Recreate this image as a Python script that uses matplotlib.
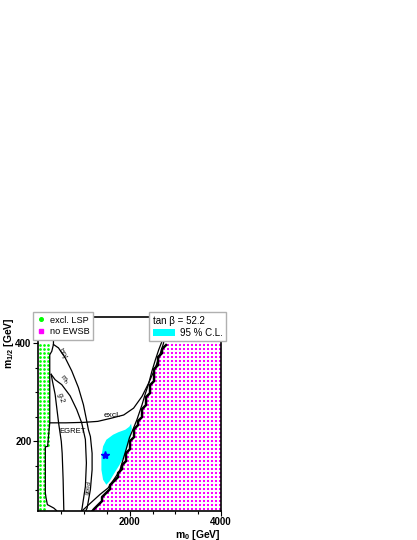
import numpy as np
import matplotlib
matplotlib.use("Agg")
from matplotlib import pyplot as plt
from matplotlib.lines import Line2D
from matplotlib.patches import Patch

plt.rcParams["font.family"] = ["Liberation Sans", "DejaVu Sans"]
plt.rcParams["mathtext.fontset"] = "custom"
plt.rcParams["mathtext.rm"] = "Liberation Sans"
plt.rcParams["mathtext.bf"] = "Liberation Sans:bold"
plt.rcParams["mathtext.it"] = "Liberation Sans:italic"

# no EWSB boundary (m0 right of this is excluded)
ewsb_m12 = [59, 64, 101, 125, 149, 169, 190, 218, 224, 248, 278, 299, 319, 345, 367, 387, 401]
ewsb_m0 = [1200, 1232, 1525, 1707, 1853, 1926, 1998, 2072, 2122, 2232, 2341, 2414, 2488, 2560, 2632, 2707, 2779]
ewsb_top = 401

# stau LSP region edge
lsp_edge_m12 = [59, 189, 190, 405]
lsp_edge_m0 = [140, 140, 230, 230]

# contour lines
lsp_line_m0 = [328, 328, 291, 247, 247, 200, 150, 150, 165, 195, 335, 395]
lsp_line_m12 = [460, 398, 384, 377, 238, 190, 189, 95, 85, 71, 64, 59]

bsg_m0 = [328, 438, 584, 729, 875, 985, 1057, 1094, 1138, 1175, 1175, 1138, 1066, 1040]
bsg_m12 = [398, 391, 371, 344, 310, 275, 242, 224, 210, 176, 142, 102, 64, 59]

mh_m0 = [278, 365, 510, 694, 838, 947, 1028, 1050, 1028, 956, 945]
mh_m12 = [337, 326, 316, 293, 265, 238, 204, 156, 108, 64, 59]

g2_m0 = [278, 306, 365, 400, 445, 500, 519, 540, 554, 556]
g2_m12 = [337, 323, 296, 269, 235, 200, 176, 122, 64, 59]

excl_m0 = [247, 600, 1000, 1300, 1575, 1867, 2085, 2269, 2414, 2560, 2670, 2742, 2760]
excl_m12 = [238, 238, 239, 241, 247, 254, 268, 292, 319, 350, 380, 401, 420]

good_m0 = [963, 1150, 1350, 1525, 1650, 1780, 1860, 1925, 1995, 2060, 2160, 2270, 2340, 2415, 2485, 2560, 2635, 2710]
good_m12 = [59, 75, 92, 105, 122, 140, 165, 185, 208, 222, 245, 275, 297, 318, 343, 366, 387, 405]

# 95 % C.L. region
cl_m0 = [1488, 1416, 1379, 1379, 1416, 1488, 1635, 1750, 1904, 1990, 2030, 2045, 2020, 1955, 1880, 1775, 1665, 1555]
cl_m12 = [111.6, 121.8, 142, 169, 190, 203.5, 213.7, 218.8, 224, 230, 236, 227, 210, 190, 169, 152, 135.5, 118.4]

best_m0 = 1450
best_m12 = 172

# scan grid of the plot (one point every 4 screen pixels)
m0_scan = np.arange(30, 4000, 87.67)
m12_scan = np.arange(62, 402, 8.165)

fig = plt.figure(figsize=(4.17, 5.40), dpi=100)
ax = fig.add_axes([0.0923, 0.0546, 0.4376, 0.3583])

G0, G12 = np.meshgrid(m0_scan, m12_scan)
pink = (G0 > np.interp(G12, ewsb_m12, ewsb_m0)) & (G12 <= ewsb_top)
green = G0 < np.interp(G12, lsp_edge_m12, lsp_edge_m0)
pl, = ax.plot(G0[pink], G12[pink], ls="none", marker="s", markersize=2.15, markeredgewidth=0,
              color="#ff00ff", antialiased=False, zorder=1)
pl.set_snap(False)
ax.scatter(G0[green], G12[green], marker="o", s=3.8, color="#00ff00", linewidths=0, zorder=1)

# jagged EWSB edge from the scan grid
dx = m0_scan[1] - m0_scan[0]
sx, sy = [], []
for j, y in enumerate(m12_scan):
    row = pink[j]
    if not row.any():
        continue
    sx.append(m0_scan[np.argmax(row)] - dx * 0.45)
    sy.append(y)
sx = [sx[0] - 60] + sx
sy = [55] + sy
ax.plot(sx, sy, color="black", lw=1.8, solid_joinstyle="round", zorder=3)

ax.fill(cl_m0, cl_m12, color="#00ffff", lw=0, zorder=2)

for xs, ys in [(lsp_line_m0, lsp_line_m12), (bsg_m0, bsg_m12), (mh_m0, mh_m12),
               (g2_m0, g2_m12), (excl_m0, excl_m12), (good_m0, good_m12)]:
    ax.plot(xs, ys, color="black", lw=0.9, zorder=3)

ax.plot([best_m0], [best_m12], marker="*", color="#0000ff", markersize=6, ls="none", zorder=4)

ax.text(525, 380, "bsγ", fontsize=5, rotation=-57, ha="center", va="center", zorder=4)
ax.text(547, 326, r"$\mathrm{m_h}$", fontsize=5, rotation=-50, ha="center", va="center", zorder=4)
ax.text(475, 289, "g-2", fontsize=5, rotation=-75, ha="center", va="center", zorder=4)
ax.text(755, 221, "EGRET", fontsize=5.5, ha="center", va="center", zorder=4)
ax.text(1620, 252, "excl.", fontsize=6, ha="center", va="center", zorder=4)
ax.text(1100, 106, "good", fontsize=4.5, rotation=80, ha="center", va="center", zorder=4)

ax.set_xlim(0, 4000)
ax.set_ylim(59, 454)
ax.set_xticks([2000, 4000])
ax.set_xticks(np.arange(500, 4000, 500), minor=True)
ax.set_yticks([200, 400])
ax.set_yticks(np.arange(100, 451, 50), minor=True)
ax.tick_params(which="both", direction="out", labelsize=7, pad=1.5, width=0.8)
ax.tick_params(which="major", length=3.5)
ax.tick_params(which="minor", length=2.5)
for lab in ax.get_xticklabels() + ax.get_yticklabels():
    lab.set_fontweight("bold")
for sp in ax.spines.values():
    sp.set_linewidth(1.2)

ax.set_xlabel(r"$\mathbf{m_0\ [GeV]}$", fontsize=7.5, loc="right")
ax.xaxis.set_label_coords(1.0, -0.088)
ax.set_ylabel(r"$\mathbf{m_{1/2}\ [GeV]}$", fontsize=7.5, loc="top")
ax.yaxis.set_label_coords(-0.125, 1.0)

h1 = [Line2D([], [], ls="none", marker="o", color="#00ff00", markersize=2.6),
      Line2D([], [], ls="none", marker="s", color="#ff00ff", markersize=2.6)]
fig.legend(h1, ["excl. LSP", "no EWSB"], loc="upper left",
           bbox_to_anchor=(33.3 / 417, 1 - 312 / 540), frameon=True, fancybox=False,
           edgecolor="#b0b0b0", framealpha=1, fontsize=6.6, handlelength=0.8,
           handletextpad=0.6, borderpad=0.4, labelspacing=0.3, borderaxespad=0)
h2 = [Patch(facecolor="#00ffff", edgecolor="none")]
fig.legend(h2, ["95 % C.L."], title="tan β = 52.2", title_fontsize=7, alignment="left",
           loc="upper left", bbox_to_anchor=(149.3 / 417, 1 - 312.3 / 540), frameon=True,
           fancybox=False, edgecolor="#b0b0b0", framealpha=1, fontsize=7,
           handlelength=2.3, handletextpad=0.5, borderpad=0.35, labelspacing=0.2,
           borderaxespad=0)

fig.savefig("out.png", dpi=100)
